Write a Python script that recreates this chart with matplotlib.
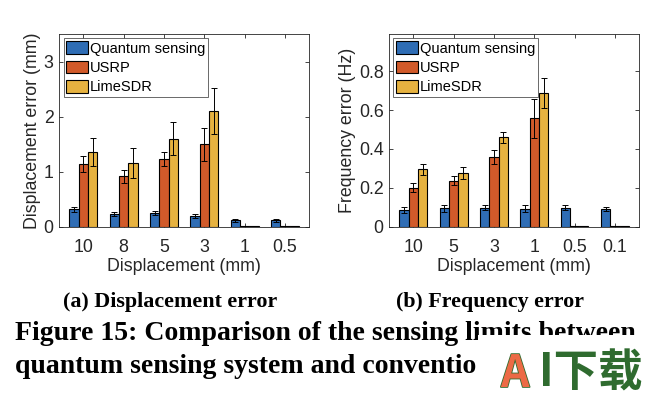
import matplotlib
matplotlib.use("Agg")
import matplotlib.pyplot as plt
import numpy as np
from matplotlib.patches import Rectangle
import matplotlib.patheffects as pe

plt.rcParams['font.family'] = ['Liberation Sans', 'DejaVu Sans']

series = ["Quantum sensing", "USRP", "LimeSDR"]
colors = ["#2F6DB5", "#D15A2A", "#E6B240"]

disp_labels = ["10", "8", "5", "3", "1", "0.5"]
disp_quantum = [0.32, 0.23, 0.25, 0.20, 0.12, 0.12]
disp_quantum_err = [0.05, 0.04, 0.04, 0.04, 0.03, 0.03]
disp_usrp = [1.14, 0.92, 1.23, 1.50, 0.01, 0.01]
disp_usrp_err = [0.14, 0.12, 0.13, 0.30, 0.0, 0.0]
disp_lime = [1.36, 1.16, 1.60, 2.10, 0.01, 0.01]
disp_lime_err = [0.25, 0.27, 0.30, 0.42, 0.0, 0.0]

freq_labels = ["10", "5", "3", "1", "0.5", "0.1"]
freq_quantum = [0.087, 0.096, 0.099, 0.094, 0.099, 0.092]
freq_quantum_err = [0.015, 0.017, 0.014, 0.017, 0.014, 0.011]
freq_usrp = [0.200, 0.238, 0.360, 0.557, 0.003, 0.003]
freq_usrp_err = [0.023, 0.025, 0.035, 0.100, 0.0, 0.0]
freq_lime = [0.297, 0.277, 0.460, 0.687, 0.003, 0.003]
freq_lime_err = [0.028, 0.032, 0.027, 0.077, 0.0, 0.0]

fig = plt.figure(figsize=(6.72, 3.96), dpi=100)

FS = 12.8

def draw(ax, labels, vals, errs, ylim, yticks, yticklabels, ylabel):
    x = np.arange(1, len(labels) + 1)
    w = 0.23
    for i, (v, e) in enumerate(zip(vals, errs)):
        xs = x + (i - 1) * w
        v = np.array(v)
        e = np.array(e)
        ax.bar(xs, v, width=w, color=colors[i], edgecolor="black",
               linewidth=0.8, label=series[i], zorder=3)
        mask = e > 0
        ax.errorbar(xs[mask], v[mask], yerr=e[mask], fmt="none",
                    ecolor="black", elinewidth=0.7, capsize=2.5,
                    capthick=0.7, zorder=4)
    ax.set_xlim(0.4, len(labels) + 0.6)
    ax.set_ylim(*ylim)
    ax.set_xticks(x)
    ax.set_xticklabels(labels, fontsize=FS)
    ax.set_yticks(yticks)
    ax.set_yticklabels(yticklabels, fontsize=FS)
    ax.tick_params(direction="in", length=3, width=0.6, top=True, right=True,
                   pad=4, colors="#262626")
    ax.tick_params(axis="x", pad=9)
    for s in ax.spines.values():
        s.set_linewidth(0.6)
        s.set_color("#262626")
    ax.set_xlabel("Displacement (mm)", fontsize=FS, labelpad=1, color="#262626")
    ax.set_ylabel(ylabel, fontsize=FS, labelpad=2, color="#262626")
    leg = ax.legend(loc="upper left", fontsize=10.5, frameon=True, fancybox=False,
                    edgecolor="#262626", handlelength=1.5, handleheight=0.95,
                    handletextpad=0.1, borderpad=0.2, labelspacing=0.35,
                    borderaxespad=0.3)
    leg.get_frame().set_linewidth(0.6)

ax1 = fig.add_axes([0.088, 0.427, 0.372, 0.487])
draw(ax1, disp_labels, [disp_quantum, disp_usrp, disp_lime],
     [disp_quantum_err, disp_usrp_err, disp_lime_err],
     (0, 3.5), [0, 1, 2, 3], ["0", "1", "2", "3"], "Displacement error (mm)")

ax2 = fig.add_axes([0.579, 0.427, 0.372, 0.487])
draw(ax2, freq_labels, [freq_quantum, freq_usrp, freq_lime],
     [freq_quantum_err, freq_usrp_err, freq_lime_err],
     (0, 0.99), [0, 0.2, 0.4, 0.6, 0.8], ["0", "0.2", "0.4", "0.6", "0.8"],
     "Frequency error (Hz)")

serif = ['Liberation Serif', 'DejaVu Serif']
fig.text(170 / 672, 1 - 307 / 396, "(a) Displacement error", family=serif,
         fontweight="bold", fontsize=15.8, ha="center", va="baseline")
fig.text(490 / 672, 1 - 307 / 396, "(b) Frequency error", family=serif,
         fontweight="bold", fontsize=15.8, ha="center", va="baseline")
fig.text(15 / 672, 1 - 340 / 396, "Figure 15: Comparison of the sensing limits between",
         family=serif, fontweight="bold", fontsize=20, ha="left", va="baseline")
fig.text(15 / 672, 1 - 373 / 396, "quantum sensing system and conventio",
         family=serif, fontweight="bold", fontsize=20, ha="left", va="baseline")

fig.patches.append(Rectangle((478 / 672, 0), 200 / 672, 1 - 335 / 396,
                             transform=fig.transFigure, facecolor="white",
                             edgecolor="none", zorder=5))
cjk = ['Noto Sans CJK SC', 'DejaVu Sans']
fig.text(501 / 672, 1 - 387 / 396, "A", family=cjk, fontweight="bold",
         fontsize=32, color="#EC6A45", ha="left", va="baseline", zorder=6,
         path_effects=[pe.withStroke(linewidth=1.2, foreground="#2F6B2F")])
fig.text(539 / 672, 1 - 387 / 396, "I下载", family=cjk, fontweight="bold",
         fontsize=32, color="#2F6B2F", ha="left", va="baseline", zorder=6)

fig.savefig("out.png", dpi=100)
